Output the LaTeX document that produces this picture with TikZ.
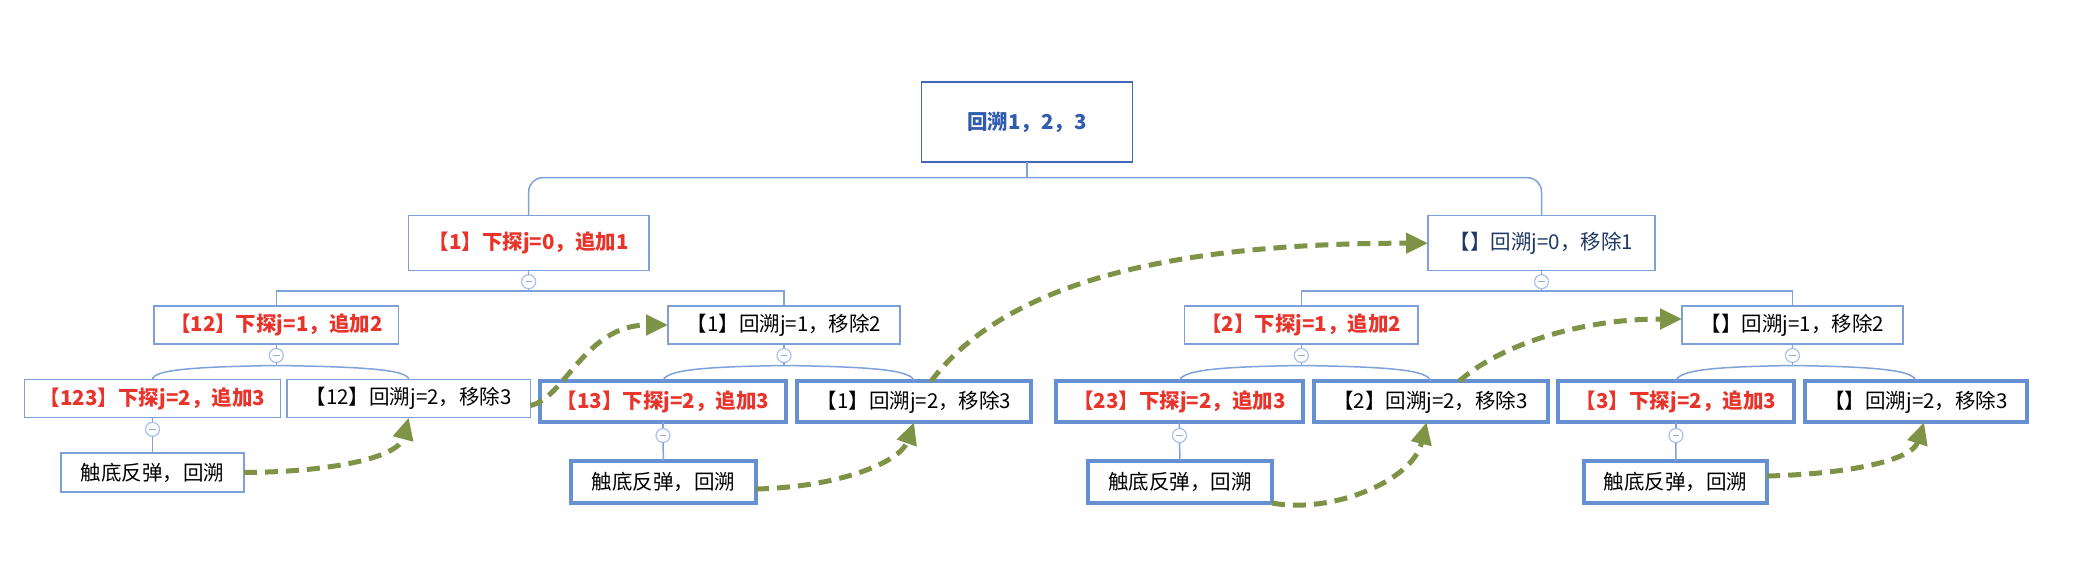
\documentclass[tikz,border=0pt]{standalone}
\usepackage{fontspec}
\setmainfont{Noto Sans CJK SC}
\usetikzlibrary{arrows.meta,calc}
\definecolor{boxc}{HTML}{7DA0DA}
\definecolor{thickc}{HTML}{6690D0}
\definecolor{rootc}{HTML}{4166B5}
\definecolor{roottxt}{HTML}{2F5CAE}
\definecolor{redtxt}{HTML}{E8342A}
\definecolor{navytxt}{HTML}{1F3864}
\definecolor{linec}{HTML}{7FA2DB}
\definecolor{circc}{HTML}{A9C1EC}
\definecolor{minusc}{HTML}{8FA9DC}
\definecolor{greenc}{HTML}{7F9346}
\begin{document}
\begin{tikzpicture}[x=0.5pt,y=-0.5pt,
  every node/.style={inner sep=0pt, outer sep=0pt},
  normfont/.style={font=\fontsize{10.25pt}{12pt}\selectfont},
  boldfont/.style={font=\fontsize{10.25pt}{12pt}\selectfont\bfseries},
  thinbox/.style={rectangle, draw=boxc, line width=0.75pt, minimum height=19.2pt},
  thickbox/.style={rectangle, draw=thickc, line width=2pt, minimum height=20.5pt},
  redlab/.style={boldfont, text=redtxt},
  blklab/.style={normfont, text=black},
  rootbox/.style={rectangle, draw=rootc, line width=0.9pt, minimum width=105.5pt, minimum height=40pt, boldfont, text=roottxt},
  tog/.style={circle, draw=circc, fill=white, line width=0.6pt, minimum size=7pt,
    path picture={\draw[minusc, line width=0.7pt] ([xshift=-1.6pt]path picture bounding box.center) -- ([xshift=1.6pt]path picture bounding box.center);}},
  conn/.style={draw=linec, line width=0.75pt},
  garrow/.style={draw=greenc, line width=2.5pt, dash pattern=on 6.5pt off 4pt, -{Triangle[length=11pt,width=10pt,fill=greenc]}}
]
\fill[white] (0,0) rectangle (2074,572);
\useasboundingbox (0,0) rectangle (2074,572);

% root
\node[rootbox] (root) at (1027,122) {回溯1，2，3};

% level 1
\node[thinbox, minimum width=120.25pt, minimum height=27.5pt, redlab] (n1) at (528.7,243.2) {【1】下探j=0，追加1};
\node[thinbox, minimum width=113.5pt, minimum height=27.5pt, normfont, text=navytxt] (n2) at (1541.5,243.2) {【】回溯j=0，移除1};

% level 2
\node[thinbox, minimum width=122.35pt, redlab] (n11) at (276.3,325) {【12】下探j=1，追加2};
\node[thinbox, minimum width=116pt, blklab] (n12) at (784,325) {【1】回溯j=1，移除2};
\node[thinbox, minimum width=116.7pt, redlab] (n21) at (1301.3,325) {【2】下探j=1，追加2};
\node[thinbox, minimum width=110.5pt, blklab] (n22) at (1792.5,325) {【】回溯j=1，移除2};

% level 3
\node[thinbox, minimum width=128pt, redlab] (a) at (152.5,398.5) {【123】下探j=2，追加3};
\node[thinbox, minimum width=121.7pt, blklab] (b) at (408.7,398.5) {【12】回溯j=2，移除3};
\node[thickbox, minimum width=123pt, redlab] (c) at (663,401.8) {【13】下探j=2，追加3};
\node[thickbox, minimum width=117pt, blklab] (d) at (914,401.8) {【1】回溯j=2，移除3};
\node[thickbox, minimum width=123.5pt, redlab] (e) at (1179.4,401.8) {【23】下探j=2，追加3};
\node[thickbox, minimum width=117pt, blklab] (f) at (1430.5,401.8) {【2】回溯j=2，移除3};
\node[thickbox, minimum width=118pt, redlab] (g) at (1676,401.8) {【3】下探j=2，追加3};
\node[thickbox, minimum width=111pt, blklab] (h) at (1916,401.8) {【】回溯j=2，移除3};

% leaves
\node[thinbox, minimum width=91.5pt, minimum height=19.5pt, blklab] (l1) at (152.5,472.5) {触底反弹，回溯};
\node[thickbox, minimum width=92.5pt, minimum height=21pt, blklab] (l2) at (663.5,482) {触底反弹，回溯};
\node[thickbox, minimum width=92pt, minimum height=21pt, blklab] (l3) at (1180,482) {触底反弹，回溯};
\node[thickbox, minimum width=91.5pt, minimum height=21pt, blklab] (l4) at (1675.7,482) {触底反弹，回溯};

% toggles
\node[tog] (tn1) at (528.7,281.7) {};
\node[tog] (tn2) at (1541.5,281.7) {};
\node[tog] (tn11) at (276.3,355.5) {};
\node[tog] (tn12) at (784,355.5) {};
\node[tog] (tn21) at (1301.3,355.5) {};
\node[tog] (tn22) at (1792.5,355.5) {};
\node[tog] (ta) at (152.5,429.3) {};
\node[tog] (tc) at (663,435.5) {};
\node[tog] (te) at (1179.5,435.5) {};
\node[tog] (tg) at (1676,435.5) {};

% junction coordinates
\coordinate (r0) at (1027,177.7);
\coordinate (j1) at (528.7,291);
\coordinate (j2) at (1541.5,291);
\coordinate (k11) at (276.3,365.5);
\coordinate (k12) at (784,365.5);
\coordinate (k21) at (1301.3,365.5);
\coordinate (k22) at (1792.5,365.5);

% root connectors
\draw[conn] (root.south) -- (r0);
\draw[conn, rounded corners=7pt] (r0) -| (n1.north);
\draw[conn, rounded corners=7pt] (r0) -| (n2.north);

% level 1 -> level 2
\draw[conn] (n1.south) -- (tn1.north);
\draw[conn] (tn1.south) -- (j1);
\draw[conn] (j1) -| (n11.north);
\draw[conn] (j1) -| (n12.north);
\draw[conn] (n2.south) -- (tn2.north);
\draw[conn] (tn2.south) -- (j2);
\draw[conn] (j2) -| (n21.north);
\draw[conn] (j2) -| (n22.north);

% level 2 -> level 3 (curved brackets)
\draw[conn] (n11.south) -- (tn11.north);
\draw[conn] (tn11.south) -- (k11);
\draw[conn] (k11) .. controls (195.8,366.8) and (154,369.5) .. (a.north);
\draw[conn] (k11) .. controls (362.4,366.8) and (407.2,369.5) .. (b.north);
\draw[conn] (n12.south) -- (tn12.north);
\draw[conn] (tn12.south) -- (k12);
\draw[conn] (k12) .. controls (705.4,366.8) and (664.5,369.5) .. (c.north);
\draw[conn] (k12) .. controls (868.5,366.8) and (912.5,369.5) .. (d.north);
\draw[conn] (n21.south) -- (tn21.north);
\draw[conn] (tn21.south) -- (k21);
\draw[conn] (k21) .. controls (1222,366.8) and (1181,369.5) .. (e.north);
\draw[conn] (k21) .. controls (1385.3,366.8) and (1429,369.5) .. (f.north);
\draw[conn] (n22.south) -- (tn22.north);
\draw[conn] (tn22.south) -- (k22);
\draw[conn] (k22) .. controls (1716.8,366.8) and (1677.5,369.5) .. (g.north);
\draw[conn] (k22) .. controls (1872.8,366.8) and (1914.5,369.5) .. (h.north);

% level 3 -> leaves
\draw[conn] (a.south) -- (ta.north);
\draw[conn] (ta.south) -- (l1.north);
\draw[conn] (c.south) -- (tc.north);
\draw[conn] (tc.south) -- (l2.north);
\draw[conn] (e.south) -- (te.north);
\draw[conn] (te.south) -- (l3.north);
\draw[conn] (g.south) -- (tg.north);
\draw[conn] (tg.south) -- (l4.north);

% green dashed arrows
\draw[garrow] (l1.east) .. controls (330,472) and (398,458) .. (b.south);
\draw[garrow] ([yshift=-3.5pt]b.east) .. controls (565,398) and (585,325) .. (n12.west);
\draw[garrow] ([yshift=-3.5pt]l2.east) .. controls (840,487) and (900,462) .. (d.south);
\draw[garrow] ([xshift=8.5pt]d.north) .. controls (1000,290) and (1150,243) .. (n2.west);
\draw[garrow] (l3.south east) .. controls (1330,514) and (1412,482) .. ([xshift=-2pt]f.south);
\draw[garrow] ([xshift=14.25pt]f.north) .. controls (1500,345) and (1580,319) .. ([yshift=3pt]n22.west);
\draw[garrow] ([yshift=3pt]l4.east) .. controls (1850,474) and (1912,460) .. ([xshift=4pt]h.south);
\end{tikzpicture}
\end{document}
